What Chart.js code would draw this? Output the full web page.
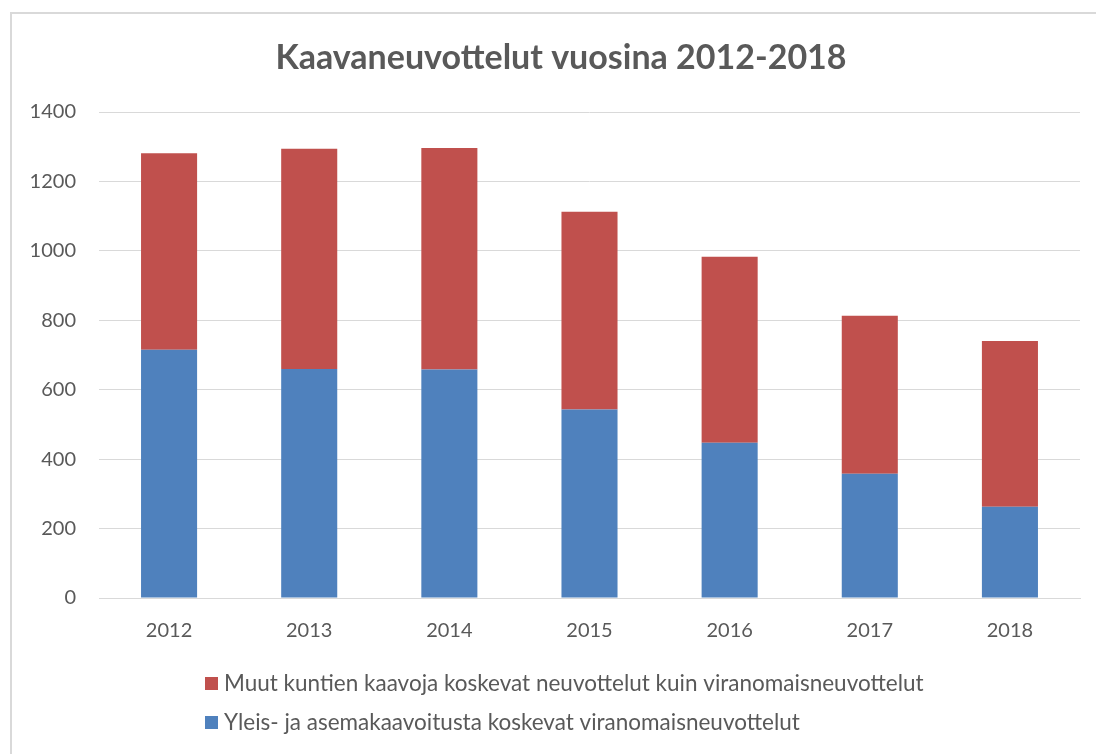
<!DOCTYPE html>
<html><head><meta charset="utf-8">
<script src="https://cdn.jsdelivr.net/npm/chart.js@4.4.1/dist/chart.umd.min.js"></script>
<style>
html,body{margin:0;padding:0;background:#fff;overflow:hidden;width:1096px;height:754px;}
#frame{position:absolute;left:10px;top:12px;width:1200px;height:900px;border:2px solid #d9d9d9;box-sizing:border-box;}
#wrap{position:absolute;left:0;top:0;width:1096px;height:754px;}
</style></head><body>
<div id="frame"></div>
<div id="wrap"><canvas id="c" width="1096" height="754"></canvas></div>
<script>
const years = ['2012', '2013', '2014', '2015', '2016', '2017', '2018'];
const viranomaisneuvottelut = [715, 660, 658, 543, 447, 358, 263];
const muutNeuvottelut = [566, 634, 638, 570, 536, 455, 477];
const yTickValues = [0, 200, 400, 600, 800, 1000, 1200, 1400];
const chartTitle = 'Kaavaneuvottelut vuosina 2012-2018';
const labelViranomais = 'Yleis- ja asemakaavoitusta koskevat viranomaisneuvottelut';
const labelMuut = 'Muut kuntien kaavoja koskevat neuvottelut kuin viranomaisneuvottelut';

const TEXT = '#595959';
const GRID = '#d9d9d9';
const FONT = 'Lato';

const titleAndLegendPlugin = {
  id: 'titleAndLegend',
  afterDraw(chart) {
    const ctx = chart.ctx;
    const area = chart.chartArea;
    ctx.save();
    // title
    ctx.font = 'bold 34px ' + FONT;
    ctx.fillStyle = TEXT;
    ctx.textAlign = 'center';
    ctx.textBaseline = 'middle';
    ctx.fillText(chartTitle, area.left + 462, area.top - 54);
    // legend
    const items = chart.data.datasets.slice().reverse();
    ctx.font = '22.5px ' + FONT;
    ctx.textAlign = 'left';
    items.forEach((ds, i) => {
      const x = area.left + 106;
      const y = area.bottom + 86 + i * 39;
      ctx.fillStyle = ds.backgroundColor;
      ctx.fillRect(x, y - 7, 13, 13);
      ctx.fillStyle = TEXT;
      ctx.fillText(ds.label, x + 19, y);
    });
    ctx.restore();
  }
};

function build() {
  new Chart(document.getElementById('c'), {
    type: 'bar',
    data: {
      labels: years,
      datasets: [
        { label: labelViranomais, data: viranomaisneuvottelut, backgroundColor: '#4f81bd', borderWidth: 0 },
        { label: labelMuut, data: muutNeuvottelut, backgroundColor: '#c0504d', borderWidth: 0 }
      ]
    },
    options: {
      responsive: false,
      animation: false,
      devicePixelRatio: 1,
      layout: { padding: { left: 0, right: 16, top: 112, bottom: 90 } },
      datasets: { bar: { categoryPercentage: 1, barPercentage: 0.4 } },
      plugins: {
        legend: { display: false },
        tooltip: { enabled: false },
        title: { display: false }
      },
      scales: {
        x: {
          stacked: true,
          grid: { display: false, drawTicks: false },
          border: { display: true, color: GRID, width: 1 },
          ticks: { color: TEXT, font: { family: FONT, size: 20 }, padding: 21 }
        },
        y: {
          stacked: true,
          min: yTickValues[0],
          max: yTickValues[yTickValues.length - 1],
          afterBuildTicks: (s) => { s.ticks = yTickValues.map(v => ({ value: v })); },
          afterFit: (s) => { s.width = 99; },
          grid: { color: GRID, lineWidth: 1, drawTicks: false },
          border: { display: false },
          ticks: { color: TEXT, font: { family: FONT, size: 20 }, padding: 23, callback: (v) => String(v) }
        }
      }
    },
    plugins: [titleAndLegendPlugin]
  });
}
if (document.fonts && document.fonts.load) {
  Promise.all([document.fonts.load('20px Lato'), document.fonts.load('bold 34px Lato'), document.fonts.load('22px Lato')]).then(build, build);
} else { build(); }
</script>
</body></html>
